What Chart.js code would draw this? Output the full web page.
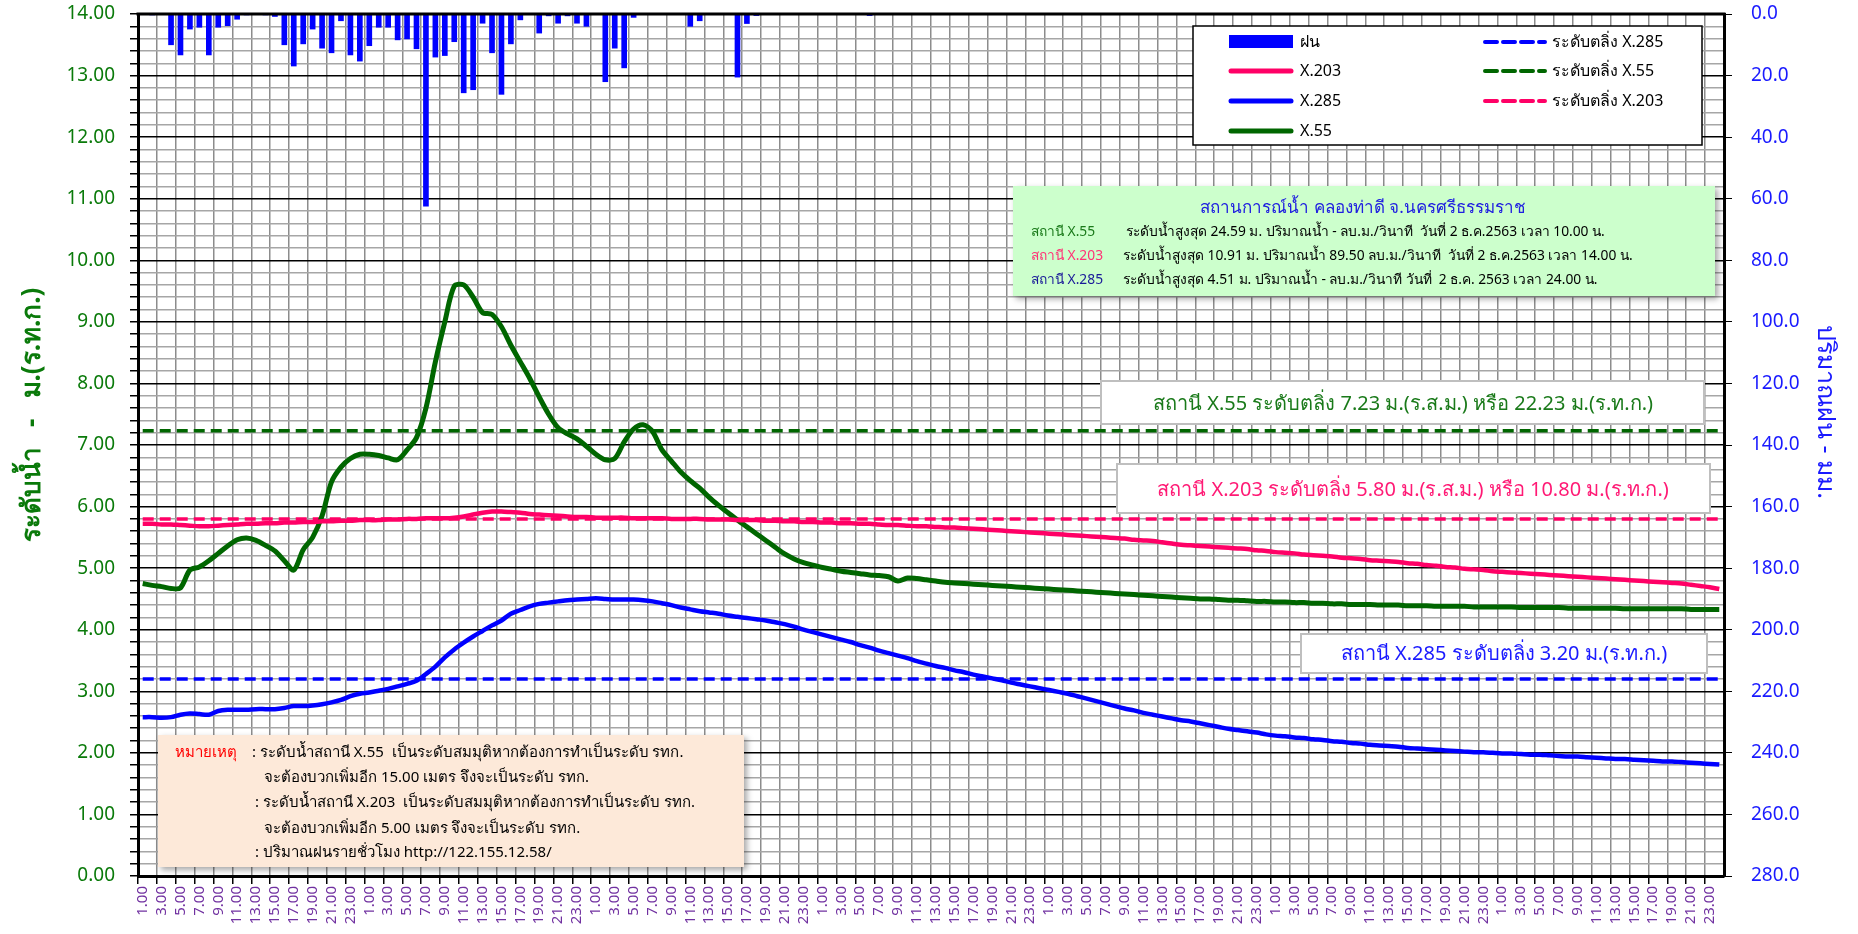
<!DOCTYPE html>
<html>
<head>
<meta charset="utf-8">
<script src="https://cdn.jsdelivr.net/npm/chart.js@4"></script>
<style>
  body { margin: 0; background: #fff; }
  canvas { display: block; }
</style>
</head>
<body>
<canvas id="waterChart" width="1858" height="934"></canvas>
<script>
const FONT = "Tahoma, 'Noto Sans', 'DejaVu Sans', sans-serif";

// hourly categories, 7 days of 1.00 .. 24.00
const dayHours = ['1.00', '2.00', '3.00', '4.00', '5.00', '6.00', '7.00', '8.00', '9.00', '10.00', '11.00', '12.00',
  '13.00', '14.00', '15.00', '16.00', '17.00', '18.00', '19.00', '20.00', '21.00', '22.00', '23.00', '24.00'];
const dayCount = 7;

// rain (mm/hr), right axis
const rain = [
  0, 0.3, 0, 10.0, 13.3, 4.9, 4.3, 13.3, 4.3, 3.8, 1.7, 0.3, 0, 0.3, 0.8, 10.0, 16.9, 9.7, 4.9, 11.1, 12.6, 2.2, 13.3, 15.3,
  10.3, 4.3, 4.3, 8.4, 8.1, 11.3, 62.4, 14.0, 13.5, 9.0, 25.6, 24.6, 3.0, 12.6, 26.1, 9.7, 1.9, 0, 6.2, 0.6, 3.0, 0.6, 3.0, 4.0,
  0, 22.0, 11.1, 17.5, 1.1, 0, 0, 0, 0, 0, 4.0, 2.2, 0, 0, 0, 20.5, 3.1, 0.5, 0, 0, 0, 0, 0, 0,
  0, 0, 0, 0, 0, 0.5, 0, 0, 0, 0, 0, 0, 0, 0, 0, 0, 0, 0, 0, 0, 0, 0, 0, 0,
  0, 0, 0, 0, 0, 0, 0, 0, 0, 0, 0, 0, 0, 0, 0, 0, 0, 0, 0, 0, 0, 0, 0, 0,
  0, 0, 0, 0, 0, 0, 0, 0, 0, 0, 0, 0, 0, 0, 0, 0, 0, 0, 0, 0, 0, 0, 0, 0,
  0, 0, 0, 0, 0, 0, 0, 0, 0, 0, 0, 0, 0, 0, 0, 0, 0, 0, 0, 0, 0, 0, 0, 0
];

// water level X.203 (m)
const levelX203 = [
  5.72, 5.72, 5.71, 5.71, 5.70, 5.69, 5.68, 5.68, 5.69, 5.70, 5.71, 5.72, 5.72, 5.73, 5.73, 5.74, 5.74, 5.75, 5.75, 5.76, 5.76, 5.77, 5.77, 5.78,
  5.78, 5.78, 5.79, 5.79, 5.80, 5.80, 5.81, 5.81, 5.81, 5.82, 5.84, 5.87, 5.90, 5.92, 5.92, 5.91, 5.90, 5.88, 5.87, 5.86, 5.85, 5.84, 5.83, 5.83,
  5.82, 5.82, 5.82, 5.82, 5.81, 5.81, 5.81, 5.81, 5.80, 5.80, 5.80, 5.80, 5.79, 5.79, 5.79, 5.78, 5.78, 5.78, 5.77, 5.77, 5.76, 5.76, 5.75, 5.75,
  5.74, 5.74, 5.73, 5.73, 5.72, 5.72, 5.71, 5.70, 5.70, 5.69, 5.68, 5.68, 5.67, 5.66, 5.66, 5.65, 5.64, 5.63, 5.62, 5.61, 5.60, 5.59, 5.58, 5.57,
  5.56, 5.55, 5.54, 5.53, 5.52, 5.51, 5.50, 5.49, 5.48, 5.46, 5.45, 5.44, 5.42, 5.40, 5.38, 5.37, 5.36, 5.35, 5.34, 5.33, 5.32, 5.31, 5.29, 5.28,
  5.26, 5.25, 5.24, 5.22, 5.21, 5.20, 5.19, 5.17, 5.16, 5.15, 5.13, 5.12, 5.11, 5.10, 5.08, 5.07, 5.05, 5.04, 5.02, 5.01, 4.99, 4.98, 4.97, 4.95,
  4.94, 4.93, 4.92, 4.91, 4.90, 4.89, 4.88, 4.87, 4.86, 4.85, 4.84, 4.83, 4.82, 4.81, 4.80, 4.79, 4.78, 4.77, 4.76, 4.75, 4.73, 4.71, 4.69, 4.66
];

// water level X.285 (m)
const levelX285 = [
  2.58, 2.58, 2.57, 2.58, 2.62, 2.64, 2.63, 2.62, 2.68, 2.70, 2.70, 2.70, 2.71, 2.71, 2.71, 2.73, 2.76, 2.76, 2.77, 2.79, 2.82, 2.86, 2.92, 2.96,
  2.98, 3.01, 3.04, 3.08, 3.12, 3.17, 3.28, 3.40, 3.55, 3.68, 3.79, 3.89, 3.98, 4.07, 4.15, 4.26, 4.32, 4.38, 4.42, 4.44, 4.46, 4.48, 4.49, 4.50,
  4.51, 4.50, 4.49, 4.49, 4.49, 4.48, 4.46, 4.43, 4.40, 4.36, 4.33, 4.30, 4.28, 4.26, 4.23, 4.21, 4.19, 4.17, 4.15, 4.12, 4.09, 4.05, 4.00, 3.96,
  3.92, 3.88, 3.84, 3.80, 3.75, 3.71, 3.66, 3.62, 3.58, 3.54, 3.49, 3.45, 3.41, 3.38, 3.34, 3.31, 3.27, 3.24, 3.21, 3.18, 3.14, 3.11, 3.08, 3.05,
  3.02, 2.99, 2.96, 2.92, 2.88, 2.84, 2.80, 2.76, 2.72, 2.69, 2.65, 2.62, 2.59, 2.56, 2.53, 2.51, 2.48, 2.45, 2.42, 2.39, 2.37, 2.35, 2.33, 2.30,
  2.28, 2.27, 2.25, 2.24, 2.22, 2.21, 2.19, 2.18, 2.16, 2.15, 2.13, 2.12, 2.11, 2.10, 2.08, 2.07, 2.06, 2.05, 2.04, 2.03, 2.02, 2.01, 2.01, 2.00,
  1.99, 1.99, 1.98, 1.97, 1.97, 1.96, 1.95, 1.94, 1.94, 1.93, 1.92, 1.91, 1.90, 1.90, 1.89, 1.88, 1.87, 1.86, 1.86, 1.85, 1.84, 1.83, 1.82, 1.81
];

// water level X.55 (m)
const levelX55 = [
  4.75, 4.72, 4.70, 4.67, 4.68, 4.97, 5.02, 5.12, 5.24, 5.36, 5.46, 5.49, 5.45, 5.37, 5.28, 5.12, 4.97, 5.30, 5.50, 5.85, 6.40, 6.64, 6.78, 6.85,
  6.85, 6.83, 6.79, 6.76, 6.92, 7.12, 7.60, 8.35, 9.00, 9.58, 9.60, 9.40, 9.15, 9.12, 8.92, 8.62, 8.35, 8.08, 7.78, 7.50, 7.28, 7.18, 7.10, 6.98,
  6.85, 6.76, 6.78, 7.05, 7.26, 7.33, 7.22, 6.92, 6.74, 6.56, 6.42, 6.30, 6.15, 6.02, 5.90, 5.78, 5.67, 5.56, 5.45, 5.34, 5.23, 5.15, 5.09, 5.05,
  5.01, 4.98, 4.95, 4.93, 4.91, 4.89, 4.88, 4.86, 4.79, 4.84, 4.83, 4.81, 4.79, 4.77, 4.76, 4.75, 4.74, 4.73, 4.72, 4.71, 4.70, 4.69, 4.68, 4.67,
  4.66, 4.65, 4.64, 4.63, 4.62, 4.61, 4.60, 4.59, 4.58, 4.57, 4.56, 4.55, 4.54, 4.53, 4.52, 4.51, 4.50, 4.50, 4.49, 4.48, 4.48, 4.47, 4.46, 4.46,
  4.45, 4.45, 4.44, 4.44, 4.43, 4.43, 4.42, 4.42, 4.41, 4.41, 4.41, 4.40, 4.40, 4.40, 4.39, 4.39, 4.39, 4.38, 4.38, 4.38, 4.38, 4.37, 4.37, 4.37,
  4.37, 4.37, 4.36, 4.36, 4.36, 4.36, 4.36, 4.35, 4.35, 4.35, 4.35, 4.35, 4.35, 4.34, 4.34, 4.34, 4.34, 4.34, 4.34, 4.34, 4.33, 4.33, 4.33, 4.33
];

// bank levels
const bankX285 = 3.20;
const bankX55 = 7.23;
const bankX203 = 5.80;

const GREEN = '#006600';
const PINK = '#ff0066';
const BLUE = '#0000ff';

let labels = [];
for (let d = 0; d < dayCount; d++) {
  labels = labels.concat(dayHours);
}

function isWhole(v) {
  return Math.abs(v - Math.round(v)) < 1e-6;
}

function drawBox(ctx, x, y, w, h, fill, stroke, shadow) {
  ctx.save();
  if (shadow) {
    ctx.shadowColor = 'rgba(0,0,0,0.35)';
    ctx.shadowBlur = 6;
    ctx.shadowOffsetX = 3;
    ctx.shadowOffsetY = 3;
  }
  ctx.fillStyle = fill;
  ctx.fillRect(x, y, w, h);
  ctx.restore();
  if (stroke) {
    ctx.save();
    ctx.strokeStyle = stroke.color;
    ctx.lineWidth = stroke.width;
    ctx.strokeRect(x, y, w, h);
    ctx.restore();
  }
}

function text(ctx, str, x, y, color, size, align, weight) {
  ctx.fillStyle = color;
  ctx.font = (weight || 'normal') + ' ' + size + 'px ' + FONT;
  ctx.textAlign = align || 'left';
  ctx.textBaseline = 'middle';
  ctx.fillText(str, x, y);
}

// rotated axis title, angle in radians
function rotatedText(ctx, str, x, y, angle, color, size, weight) {
  ctx.save();
  ctx.translate(x, y);
  ctx.rotate(angle);
  text(ctx, str, 0, 0, color, size, 'center', weight);
  ctx.restore();
}

function legendLine(ctx, x1, x2, y, color, width, dash) {
  ctx.save();
  ctx.strokeStyle = color;
  ctx.lineWidth = width;
  ctx.lineCap = 'round';
  ctx.setLineDash(dash || []);
  ctx.beginPath();
  ctx.moveTo(x1, y);
  ctx.lineTo(x2, y);
  ctx.stroke();
  ctx.restore();
}

// legend box, info boxes and notes drawn on top of the plot
const overlayPlugin = {
  id: 'overlay',
  afterDraw(chart) {
    const ctx = chart.ctx;
    const area = chart.chartArea;

    // top frame line
    ctx.save();
    ctx.strokeStyle = '#000';
    ctx.lineWidth = 3;
    ctx.beginPath();
    ctx.moveTo(area.left - 1.5, area.top);
    ctx.lineTo(area.right + 1.5, area.top);
    ctx.stroke();
    ctx.restore();

    // axis titles
    rotatedText(ctx, 'ระดับน้ำ   -   ม.(ร.ท.ก.)', 33, 415, -Math.PI / 2, '#0a7a0a', 26, 'bold');
    rotatedText(ctx, 'ปริมาณฝน - มม.', 1825, 412, Math.PI / 2, '#1a1aff', 25);

    // legend
    drawBox(ctx, 1193, 26, 509, 119, '#fff', { color: '#000', width: 1.5 }, false);
    ctx.fillStyle = BLUE;
    ctx.fillRect(1229, 35, 64, 13);
    legendLine(ctx, 1231, 1291, 71, PINK, 5);
    legendLine(ctx, 1231, 1291, 101, BLUE, 5);
    legendLine(ctx, 1231, 1291, 131, GREEN, 5);
    text(ctx, 'ฝน', 1300, 42, '#000', 16);
    text(ctx, 'X.203', 1300, 71, '#000', 16);
    text(ctx, 'X.285', 1300, 101, '#000', 16);
    text(ctx, 'X.55', 1300, 131, '#000', 16);
    legendLine(ctx, 1485, 1545, 42, BLUE, 4, [12, 6]);
    legendLine(ctx, 1485, 1545, 71, GREEN, 4, [12, 6]);
    legendLine(ctx, 1485, 1545, 101, PINK, 4, [12, 6]);
    text(ctx, 'ระดับตลิ่ง X.285', 1552, 42, '#000', 16);
    text(ctx, 'ระดับตลิ่ง X.55', 1552, 71, '#000', 16);
    text(ctx, 'ระดับตลิ่ง X.203', 1552, 101, '#000', 16);

    // station summary
    drawBox(ctx, 1013, 186, 702, 110, '#ccffcc', null, true);
    text(ctx, 'สถานการณ์น้ำ คลองท่าดี จ.นครศรีธรรมราช', 1363, 208, '#2020e0', 17, 'center');
    text(ctx, 'สถานี X.55', 1031, 232, '#1a7a1a', 13.8);
    text(ctx, 'ระดับน้ำสูงสุด 24.59 ม. ปริมาณน้ำ - ลบ.ม./วินาที  วันที่ 2 ธ.ค.2563 เวลา 10.00 น.', 1126, 232, '#000', 13.8);
    text(ctx, 'สถานี X.203', 1031, 256, '#ff3377', 13.8);
    text(ctx, 'ระดับน้ำสูงสุด 10.91 ม. ปริมาณน้ำ 89.50 ลบ.ม./วินาที  วันที่ 2 ธ.ค.2563 เวลา 14.00 น.', 1123, 256, '#000', 13.8);
    text(ctx, 'สถานี X.285', 1031, 280, '#1a1a99', 13.8);
    text(ctx, 'ระดับน้ำสูงสุด 4.51 ม. ปริมาณน้ำ - ลบ.ม./วินาที วันที่  2 ธ.ค. 2563 เวลา 24.00 น.', 1123, 280, '#000', 13.8);

    // bank level labels
    drawBox(ctx, 1101, 381, 603, 43, '#fff', { color: '#bfbfbf', width: 2 }, false);
    text(ctx, 'สถานี X.55 ระดับตลิ่ง 7.23 ม.(ร.ส.ม.) หรือ 22.23 ม.(ร.ท.ก.)', 1403, 404, '#1a7a1a', 20, 'center');
    drawBox(ctx, 1117, 464, 593, 49, '#fff', { color: '#bfbfbf', width: 2 }, false);
    text(ctx, 'สถานี X.203 ระดับตลิ่ง 5.80 ม.(ร.ส.ม.) หรือ 10.80 ม.(ร.ท.ก.)', 1413, 490, '#ff1a75', 20, 'center');
    drawBox(ctx, 1301, 634, 406, 39, '#fff', { color: '#bfbfbf', width: 2 }, false);
    text(ctx, 'สถานี X.285 ระดับตลิ่ง 3.20 ม.(ร.ท.ก.)', 1504, 654, '#1a1aff', 20, 'center');

    // notes
    drawBox(ctx, 158, 735, 586, 132, '#fde9d9', null, true);
    text(ctx, 'หมายเหตุ', 175, 753, '#ff0000', 15);
    text(ctx, ': ระดับน้ำสถานี X.55  เป็นระดับสมมุติหากต้องการทำเป็นระดับ รทก.', 252, 753, '#000', 15);
    text(ctx, 'จะต้องบวกเพิ่มอีก 15.00 เมตร จึงจะเป็นระดับ รทก.', 264, 778, '#000', 15);
    text(ctx, ': ระดับน้ำสถานี X.203  เป็นระดับสมมุติหากต้องการทำเป็นระดับ รทก.', 255, 803, '#000', 15);
    text(ctx, 'จะต้องบวกเพิ่มอีก 5.00 เมตร จึงจะเป็นระดับ รทก.', 264, 829, '#000', 15);
    text(ctx, ': ปริมาณฝนรายชั่วโมง http://122.155.12.58/', 255, 853, '#000', 15);
  }
};

// keep the plot area edges fixed regardless of tick label padding
function fixVertical(width) {
  return s => {
    s.width = width;
    s.paddingTop = 0;
    s.paddingBottom = 0;
  };
}

let ctx = document.getElementById('waterChart').getContext('2d');
new Chart(ctx, {
  type: 'bar',
  data: {
    labels: labels,
    datasets: [
      {
        type: 'line', label: 'X.203', data: levelX203, yAxisID: 'y',
        borderColor: PINK, borderWidth: 4.5, pointRadius: 0, tension: 0.3, order: 1
      },
      {
        type: 'line', label: 'X.285', data: levelX285, yAxisID: 'y',
        borderColor: BLUE, borderWidth: 4.5, pointRadius: 0, tension: 0.3, order: 1
      },
      {
        type: 'line', label: 'X.55', data: levelX55, yAxisID: 'y',
        borderColor: GREEN, borderWidth: 5, pointRadius: 0, tension: 0.3, order: 1
      },
      {
        type: 'line', label: 'ระดับตลิ่ง X.285', data: labels.map(() => bankX285), yAxisID: 'y',
        borderColor: BLUE, borderWidth: 3.5, borderDash: [11, 6], pointRadius: 0, order: 2
      },
      {
        type: 'line', label: 'ระดับตลิ่ง X.55', data: labels.map(() => bankX55), yAxisID: 'y',
        borderColor: GREEN, borderWidth: 3.5, borderDash: [11, 6], pointRadius: 0, order: 2
      },
      {
        type: 'line', label: 'ระดับตลิ่ง X.203', data: labels.map(() => bankX203), yAxisID: 'y',
        borderColor: PINK, borderWidth: 3.5, borderDash: [11, 6], pointRadius: 0, order: 2
      },
      {
        type: 'bar', label: 'ฝน', data: rain, yAxisID: 'y1',
        backgroundColor: BLUE, barThickness: 5, order: 3
      }
    ]
  },
  options: {
    responsive: false,
    animation: false,
    layout: { padding: { top: 14, left: 0, right: 0, bottom: 0 } },
    plugins: {
      legend: { display: false },
      tooltip: { enabled: false }
    },
    scales: {
      x: {
        offset: true,
        grid: {
          offset: true,
          color: c => c.index % 2 === 0 ? '#8c8c8c' : 'rgba(0,0,0,0)',
          lineWidth: 1.5,
          tickLength: 8,
          tickColor: c => c.index % 2 === 0 ? '#000' : 'rgba(0,0,0,0)'
        },
        border: { color: '#000', width: 3 },
        ticks: {
          autoSkip: false,
          minRotation: 90,
          maxRotation: 90,
          padding: 2,
          color: '#7030a0',
          font: { family: FONT, size: 15 },
          callback: function (value, index) {
            return index % 2 === 0 ? this.getLabelForValue(value) : '';
          }
        },
        afterFit: s => { s.height = 58; }
      },
      y: {
        position: 'left',
        min: 0,
        max: 14,
        grid: {
          color: c => isWhole(c.tick.value) ? '#000' : '#a6a6a6',
          lineWidth: 1.5,
          tickLength: 8,
          tickColor: '#000'
        },
        border: { color: '#000', width: 3 },
        ticks: {
          stepSize: 0.2,
          autoSkip: false,
          maxTicksLimit: 200,
          padding: 15,
          color: '#0a7a0a',
          font: { family: FONT, size: 19 },
          callback: v => isWhole(v) ? v.toFixed(2) : ''
        },
        afterFit: fixVertical(138)
      },
      y1: {
        position: 'right',
        reverse: true,
        min: 0,
        max: 280,
        grid: { drawOnChartArea: false, tickLength: 8, tickColor: '#000' },
        border: { color: '#000', width: 3 },
        ticks: {
          stepSize: 20,
          padding: 19,
          color: '#1a1aff',
          font: { family: FONT, size: 19 },
          callback: v => v.toFixed(1)
        },
        afterFit: fixVertical(134)
      }
    }
  },
  plugins: [overlayPlugin]
});
</script>
</body>
</html>
